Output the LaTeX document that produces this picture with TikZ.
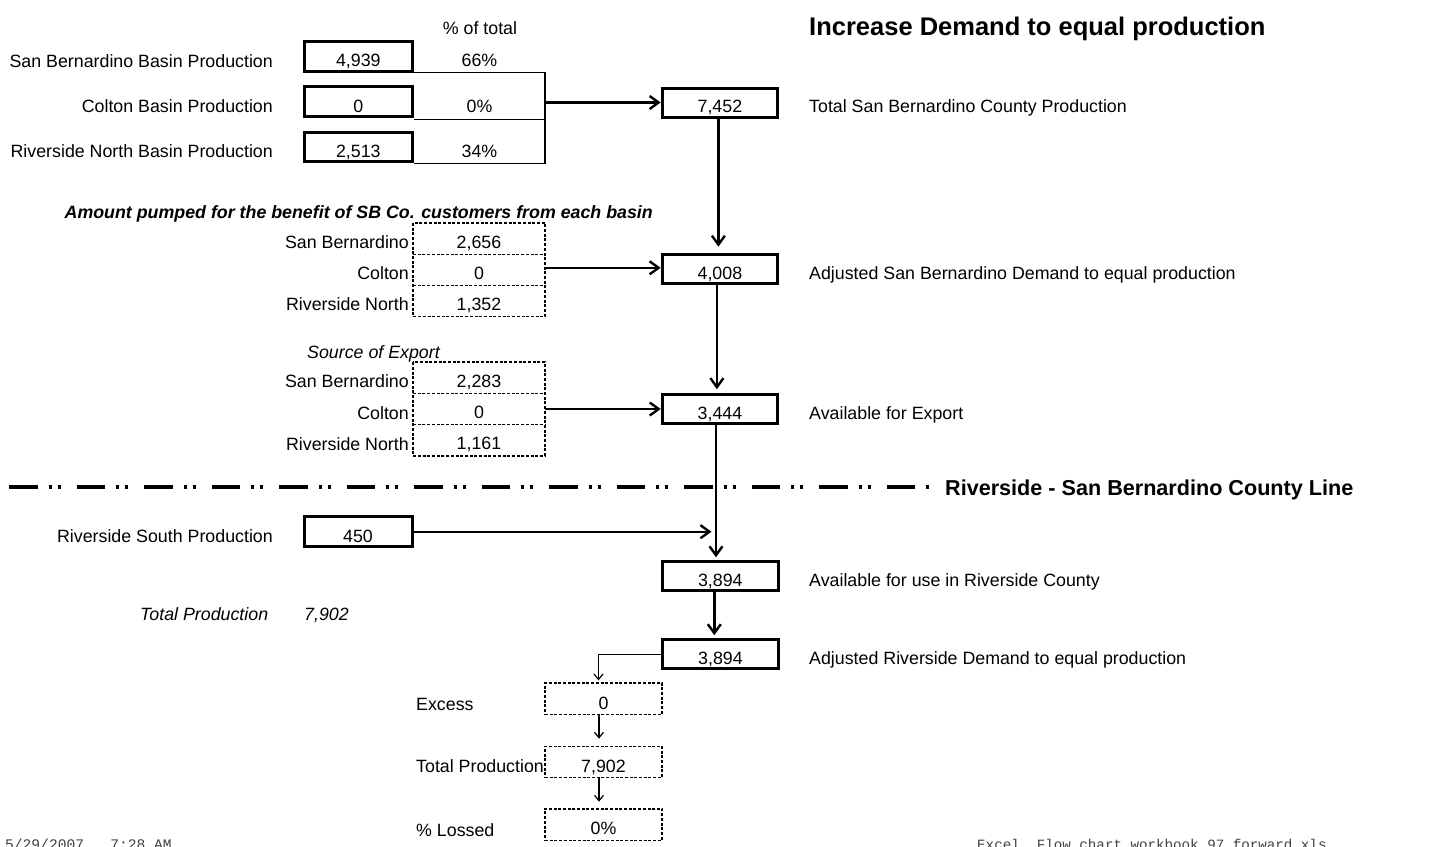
\documentclass[tikz,border=0pt]{standalone}
\usepackage{fontspec}
\setmainfont{Liberation Sans}
\setmonofont{Liberation Mono}
\usetikzlibrary{arrows.meta,calc}
\begin{document}
\begin{tikzpicture}[x=1pt,y=-1pt,
  every node/.style={font=\fontsize{17.8}{20}\selectfont, inner sep=0pt},
  lbl/.style={anchor=base east},
  rtxt/.style={anchor=base west},
  ctxt/.style={anchor=base},
  leftbox/.style={draw, line width=3pt, minimum width=108pt, minimum height=29.7pt, text height=20.7pt, text depth=0pt},
  rightbox/.style={draw, line width=3pt, minimum width=115.5pt, minimum height=29pt, text height=20pt, text depth=0pt},
  pcell/.style={minimum width=131pt, minimum height=32.7pt, text height=20.7pt, text depth=0pt, outer sep=0pt},
  dcell/.style={minimum width=132pt, minimum height=31.2pt, text height=19.2pt, text depth=0pt, outer sep=0pt},
  dotline/.style={line width=1.3pt, dash pattern=on 3pt off 1.7pt},
  dotbox/.style={draw, line width=1.3pt, dash pattern=on 3pt off 1.7pt, minimum width=117pt, minimum height=31.3pt, text height=20.6pt, text depth=0pt},
  thinline/.style={line width=1.3pt},
  mainarrow/.style={line width=2.4pt, -{Straight Barb[length=9pt,width=13pt]}},
  thinarrow/.style={line width=1.2pt, -{Straight Barb[length=5.5pt,width=9pt]}},
  titletxt/.style={anchor=base west, font=\fontsize{25.5}{28}\selectfont\bfseries},
  linetxt/.style={anchor=base west, font=\fontsize{21.6}{24}\selectfont\bfseries},
]
\useasboundingbox (0,0) rectangle (1445,846);

% ---------- title ----------
\node[titletxt] (title) at (809,35) {Increase Demand to equal production};
\node[ctxt] (pcthead) at (480,34) {\% of total};

% ---------- basin production ----------
\node[lbl] (l1) at (273,67) {San Bernardino Basin Production};
\node[lbl] (l2) at (273,112.5) {Colton Basin Production};
\node[lbl] (l3) at (273,157) {Riverside North Basin Production};

\node[leftbox] (b1) at (358.3,56.4) {4,939};
\node[leftbox] (b2) at (358.3,101.7) {0};
\node[leftbox] (b3) at (358.3,147) {2,513};

\node[pcell] (p1) at (479.5,56.4) {66\%};
\node[pcell] (p2) at (479.5,102.5) {0\%};
\node[pcell] (p3) at (479.5,147) {34\%};
\draw[thinline] (p1.south west) -- (p1.south east) -- (p3.south east) -- (p3.south west);
\draw[thinline] ([yshift=-0.8pt]p2.south west) -- ([yshift=-0.8pt]p2.south east);

% ---------- right column ----------
\node[rightbox] (t1) at (719.9,102.5) {7,452};
\node[rtxt] (tt1) at (809,112) {Total San Bernardino County Production};
\node[rightbox] (t2) at (719.9,269.2) {4,008};
\node[rtxt] (tt2) at (809,279) {Adjusted San Bernardino Demand to equal production};
\node[rightbox] (t3) at (720,409.2) {3,444};
\node[rtxt] (tt3) at (809,419) {Available for Export};
\node[rightbox] (r1) at (720.3,576.3) {3,894};
\node[rtxt] (rt1) at (809,586) {Available for use in Riverside County};
\node[rightbox] (r2) at (720.5,654.2) {3,894};
\node[rtxt] (rt2) at (809,664) {Adjusted Riverside Demand to equal production};

% ---------- amount pumped ----------
\node[anchor=base east, font=\fontsize{17.8}{20}\selectfont\bfseries\itshape] (amt) at (653,218.4) {Amount pumped for the benefit of SB Co. customers from each basin};
\node[dcell] (a1) at (479,238.6) {2,656};
\node[dcell] (a2) at (479,269.8) {0};
\node[dcell] (a3) at (479,301) {1,352};
\draw[dotline] (a1.north west) rectangle (a3.south east);
\draw[dotline] (a1.south west) -- (a1.south east);
\draw[dotline] (a2.south west) -- (a2.south east);
\node[lbl] (al1) at (409,248) {San Bernardino};
\node[lbl] (al2) at (409,279) {Colton};
\node[lbl] (al3) at (409,310) {Riverside North};

% ---------- source of export ----------
\node[ctxt, font=\fontsize{17.8}{20}\selectfont\itshape] (soe) at (373.5,358) {Source of Export};
\node[dcell] (g1) at (479,377.7) {2,283};
\node[dcell] (g2) at (479,409) {0};
\node[dcell] (g3) at (479,440.3) {1,161};
\draw[dotline] (g1.north west) rectangle (g3.south east);
\draw[dotline] (g1.south west) -- (g1.south east);
\draw[dotline] (g2.south west) -- (g2.south east);
\node[lbl] (gl1) at (409,387) {San Bernardino};
\node[lbl] (gl2) at (409,419) {Colton};
\node[lbl] (gl3) at (409,450) {Riverside North};

% ---------- county line ----------
\coordinate (cl1) at (9,487);
\coordinate (cl2) at (931,487);
\draw[line width=3.4pt, dash pattern=on 28.7pt off 11pt on 3pt off 6pt on 3pt off 15.8pt] (cl1) -- (cl2);
\node[linetxt] (cltxt) at (945,495.5) {Riverside - San Bernardino County Line};

% ---------- riverside south ----------
\node[lbl] (sl) at (273,542) {Riverside South Production};
\node[leftbox] (s1) at (358,531.7) {450};

\node[anchor=base west, font=\fontsize{17.8}{20}\selectfont\itshape] (tp) at (140,620) {Total Production};
\node[anchor=base west, font=\fontsize{17.8}{20}\selectfont\itshape] (tpv) at (304,620) {7,902};

% ---------- excess ----------
\node[anchor=base west] (el1) at (416,710) {Excess};
\node[anchor=base west] (el2) at (416,772.7) {Total Production};
\node[anchor=base west] (el3) at (416,836.7) {\% Lossed};
\node[dotbox] (e1) at (603.5,698.7) {0};
\node[dotbox, fill=white] (e2) at (603.5,762) {7,902};
\node[dotbox] (e3) at (603.5,824.5) {0\%};

% ---------- connectors ----------
\draw[mainarrow] (p2.east) -- (p2.east -| t1.west);
\draw[mainarrow, shorten >=6.5pt] ([xshift=-1.5pt]t1.south) -- ([xshift=-1.5pt]t1.south |- t2.north);
\draw[mainarrow] ([yshift=2pt]a2.east) -- ([yshift=2pt]a2.east -| t2.west);
\draw[mainarrow, shorten >=4pt] ([xshift=-3pt]t2.south) -- ([xshift=-3pt]t2.south |- t3.north);
\draw[mainarrow] (g2.east) -- (g2.east -| t3.west);
\coordinate (trunk) at ([xshift=-4pt]t3.south);
\draw[mainarrow, shorten >=3pt] (trunk) -- (trunk |- r1.north);
\draw[mainarrow] (s1.east) -- ([xshift=-4.5pt]trunk |- s1.east);
\draw[mainarrow, shorten >=3pt] ([xshift=-6pt]r1.south) -- ([xshift=-6pt]r1.south |- r2.north);
\draw[thinarrow, shorten >=2pt] (r2.west) -| ([xshift=-5pt]e1.north);
\draw[thinarrow, shorten >=7pt] ([xshift=-4.5pt]e1.south) -- ([xshift=-4.5pt]e1.south |- e2.north);
\draw[thinarrow, shorten >=6.5pt] ([xshift=-4.5pt]e2.south) -- ([xshift=-4.5pt]e2.south |- e3.north);

% ---------- footer ----------
\node[anchor=base west, font=\fontsize{14.6}{16}\ttfamily, text=black!75] (f1) at (5,849.5) {5/29/2007\ \ \ 7:28 AM};
\node[anchor=base west, font=\fontsize{14.2}{16}\ttfamily, text=black!75] (f2) at (977,849.5) {Excel\ \ Flow chart workbook 97 forward.xls};
\end{tikzpicture}
\end{document}
